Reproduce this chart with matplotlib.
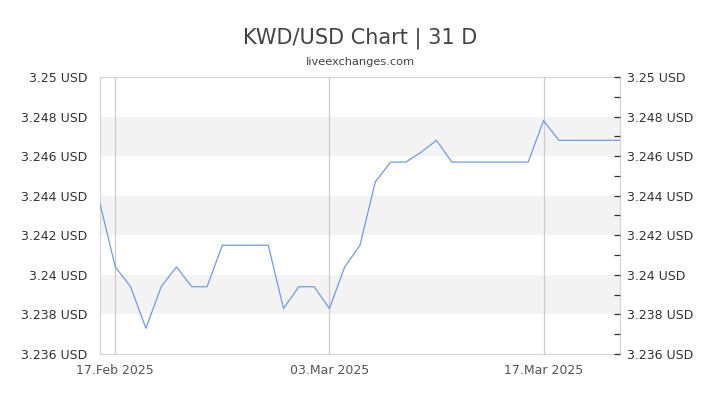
import datetime as dt
import matplotlib
matplotlib.use("Agg")
import matplotlib.pyplot as plt
import matplotlib.dates as mdates
import matplotlib.ticker as ticker

start = dt.date(2025, 2, 16)
rates = [3.2436, 3.2404, 3.2394, 3.2373, 3.2394, 3.2404, 3.2394, 3.2394,
         3.2415, 3.2415, 3.2415, 3.2415, 3.2383, 3.2394, 3.2394, 3.2383,
         3.2404, 3.2415, 3.2447, 3.2457, 3.2457, 3.2462, 3.2468, 3.2457,
         3.2457, 3.2457, 3.2457, 3.2457, 3.2457, 3.2478, 3.2468, 3.2468,
         3.2468, 3.2468, 3.2468]
days = [start + dt.timedelta(days=i) for i in range(len(rates))]
tick_days = [dt.date(2025, 2, 17), dt.date(2025, 3, 3), dt.date(2025, 3, 17)]
y_ticks = [3.236, 3.238, 3.24, 3.242, 3.244, 3.246, 3.248, 3.25]
bands = [(3.238, 3.240), (3.242, 3.244), (3.246, 3.248)]


def usd(v, pos):
    return ('%.3f' % v).rstrip('0') + ' USD'


fig = plt.figure(figsize=(7.2, 4.05), dpi=100)
ax = fig.add_axes([100 / 720, 1 - 354 / 405, 520 / 720, 277 / 405])

for lo, hi in bands:
    ax.axhspan(lo, hi, color='#f3f3f3', lw=0, zorder=0)
for d in tick_days:
    ax.axvline(d, color='#cccccc', lw=0.9, zorder=1)

ax.plot(days, rates, color='#6f9be8', lw=0.9, zorder=3)

ax.set_xlim(days[0], days[-1])
ax.set_ylim(3.236, 3.25)
ax.set_xticks(tick_days)
ax.xaxis.set_major_formatter(mdates.DateFormatter('%d.%b %Y'))
ax.tick_params(axis='x', length=0, pad=7, labelsize=9, labelcolor='#555555')

ax.set_yticks(y_ticks)
ax.yaxis.set_major_formatter(ticker.FuncFormatter(usd))
ax.tick_params(axis='y', length=0, pad=9, labelsize=9, labelcolor='#333333')

for s in ax.spines.values():
    s.set_color('#d6d6d6')
    s.set_linewidth(0.9)

ax2 = ax.twinx()
ax2.set_ylim(ax.get_ylim())
ax2.set_yticks(y_ticks)
ax2.yaxis.set_major_formatter(ticker.FuncFormatter(usd))
ax2.yaxis.set_minor_locator(ticker.MultipleLocator(0.001))
ax2.tick_params(axis='y', which='both', direction='in', length=4, width=0.9,
                color='#333333', pad=5, labelsize=9, labelcolor='#333333')
for s in ax2.spines.values():
    s.set_visible(False)

fig.text(0.5, 1 - 38 / 405, 'KWD/USD Chart | 31 D', ha='center', va='center',
         fontsize=15, color='#444444')
fig.text(0.5, 1 - 62 / 405, 'liveexchanges.com', ha='center', va='center',
         fontsize=8.2, color='#444444')

fig.savefig('out.png', dpi=100)
